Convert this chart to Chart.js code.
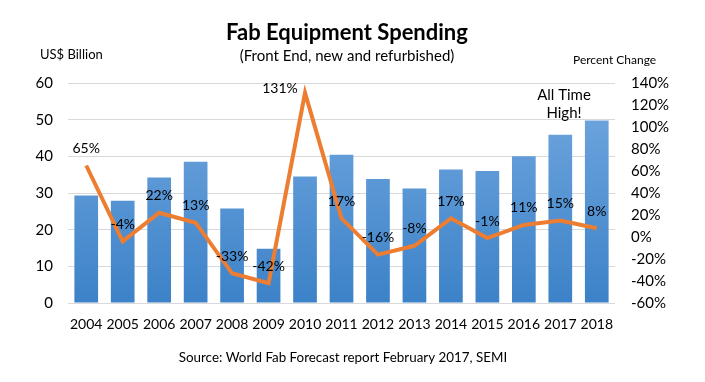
<!DOCTYPE html>
<html>
<head>
<meta charset="utf-8">
<script src="https://cdn.jsdelivr.net/npm/chart.js@4.4.1/dist/chart.umd.min.js"></script>
<style>
  html, body { margin: 0; padding: 0; background: #ffffff; }
  #wrap { width: 705px; height: 382px; position: relative; }
</style>
</head>
<body>
<div id="wrap"><canvas id="c" width="705" height="382"></canvas></div>
<script>
const years = ['2004','2005','2006','2007','2008','2009','2010','2011','2012','2013','2014','2015','2016','2017','2018'];
const spending = [29.3, 27.9, 34.2, 38.5, 25.8, 14.8, 34.5, 40.4, 33.8, 31.2, 36.4, 36.0, 40.0, 45.9, 49.8];
const pctChange = [65, -4, 22, 13, -33, -42, 131, 17, -16, -8, 17, -1, 11, 15, 8];
const leftTicks = [0, 10, 20, 30, 40, 50, 60];
const rightTicks = [-60, -40, -20, 0, 20, 40, 60, 80, 100, 120, 140];

const FONT = 'Lato, "Open Sans", sans-serif';

const textPlugin = {
  id: 'texts',
  afterDatasetsDraw(chart) {
    const ctx = chart.ctx;
    ctx.save();
    ctx.fillStyle = '#000000';
    ctx.textAlign = 'center';
    ctx.textBaseline = 'middle';
    // data labels for the line
    const meta = chart.getDatasetMeta(1);
    ctx.font = '14px ' + FONT;
    meta.data.forEach((pt, i) => {
      let dx = 0, dy = -17;
      if (i === 6) { dx = -25; dy = -4; }
      ctx.fillText(pctChange[i] + '%', pt.x + dx, pt.y + dy);
    });
    // title, subtitle
    ctx.font = 'bold 22px ' + FONT;
    ctx.fillText('Fab Equipment Spending', 347, 33);
    ctx.font = '15px ' + FONT;
    ctx.fillText('(Front End, new and refurbished)', 347, 56);
    ctx.textAlign = 'left';
    ctx.font = '13px ' + FONT;
    ctx.fillText('US$ Billion', 40, 55);
    ctx.font = '12px ' + FONT;
    ctx.fillText('Percent Change', 573, 60);
    ctx.textAlign = 'center';
    ctx.font = '15px ' + FONT;
    ctx.fillText('All Time', 564, 95);
    ctx.fillText('High!', 564, 113);
    ctx.font = '13.4px ' + FONT;
    ctx.fillText('Source: World Fab Forecast report February 2017, SEMI', 343, 358);
    ctx.restore();
  }
};

function barGradient(context) {
  const chart = context.chart;
  const area = chart.chartArea;
  if (!area) return '#5b9bd5';
  const g = chart.ctx.createLinearGradient(0, area.top, 0, area.bottom);
  g.addColorStop(0, '#74a9e0');
  g.addColorStop(1, '#3c82c8');
  return g;
}

new Chart(document.getElementById('c'), {
  data: {
    labels: years,
    datasets: [
      {
        type: 'bar',
        data: spending,
        yAxisID: 'y',
        backgroundColor: barGradient,
        borderWidth: 0,
        categoryPercentage: 1.0,
        barPercentage: 0.65,
        order: 2
      },
      {
        type: 'line',
        data: pctChange,
        yAxisID: 'y2',
        borderColor: '#ED7D31',
        borderWidth: 4,
        pointRadius: 0,
        tension: 0,
        fill: false,
        order: 1
      }
    ]
  },
  options: {
    responsive: false,
    animation: false,
    devicePixelRatio: 1,
    layout: { padding: { top: 83, left: 0, right: 0, bottom: 0 } },
    plugins: {
      legend: { display: false },
      title: { display: false },
      tooltip: { enabled: false }
    },
    scales: {
      x: {
        grid: { display: false },
        border: { display: false },
        ticks: { color: '#000000', font: { family: FONT, size: 14 }, padding: 5, maxRotation: 0, autoSkip: false },
        afterFit(s) { s.height = 79; }
      },
      y: {
        position: 'left',
        min: 0, max: 60,
        afterBuildTicks(s) { s.ticks = leftTicks.map(v => ({ value: v })); },
        grid: { color: '#d9d9d9', lineWidth: 1, drawTicks: false },
        border: { display: false },
        ticks: { color: '#000000', font: { family: FONT, size: 15 }, padding: 15 },
        afterFit(s) { s.width = 68; }
      },
      y2: {
        position: 'right',
        min: -60, max: 140,
        afterBuildTicks(s) { s.ticks = rightTicks.map(v => ({ value: v })); },
        grid: { display: false, drawTicks: false },
        border: { display: false },
        ticks: { color: '#000000', font: { family: FONT, size: 15 }, padding: 16, callback: v => v + '%' },
        afterFit(s) { s.width = 90; }
      }
    }
  },
  plugins: [textPlugin]
});
</script>
</body>
</html>
